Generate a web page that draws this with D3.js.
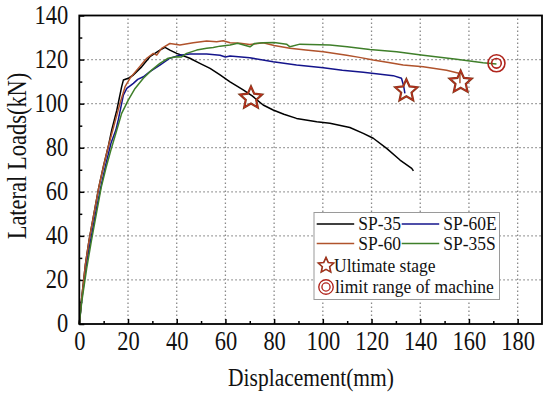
<!DOCTYPE html>
<html><head><meta charset="utf-8">
<script src="https://cdn.jsdelivr.net/npm/d3@7/dist/d3.min.js"></script>
<style>body{margin:0;background:#fff}svg{display:block}</style>
</head><body>
<svg id="chart" width="550" height="397"></svg>
<script>
// ---- data ----
const xTicks = [0,20,40,60,80,100,120,140,160,180];
const yTicks = [0,20,40,60,80,100,120,140];
const seriesNames = ["SP-35","SP-60E","SP-60","SP-35S"];
const sp35 = [[0,0],[1,12],[2.5,27],[4,38],[6,50],[8,62],[10,72],[12,81],[13.3,88],[15.4,97],[17.4,107.7],[18.1,110.7],[20.1,111.5],[22.2,113],[25.6,116.7],[29,121.3],[33.1,124.3],[35.2,125.5],[37.2,124.3],[40,122.8],[45.4,120.6],[49.5,118.3],[53.7,116],[57.8,113],[61.9,109.9],[67.3,106.2],[71,103.5],[75.5,99.4],[79.6,97.1],[84,95.2],[89.2,93.3],[97.5,91.8],[102.9,91.1],[111.1,89.2],[116.6,86.5],[120.7,84.3],[126.2,79.7],[131.7,74.4],[136.5,70.6],[137.2,69.5]];
const sp60E = [[0,0],[1,11],[3,28],[5,40],[7,52],[9,63],[11,73],[13,82],[15,88],[16,92.6],[17,98],[18.1,103.9],[19.5,106.9],[22.2,109.2],[24,111],[26.3,112.2],[29,114.5],[33.1,117.5],[37.2,120.6],[41.3,122],[45.4,122.5],[52.3,122.5],[57.8,122],[60,121.2],[61.9,121.6],[70,120.8],[79.6,119],[89.2,117.5],[100.2,116.3],[108,115.2],[116.6,114.2],[128.9,112.7],[132.3,111.5],[133.2,108],[133.7,104.7]];
const sp60 = [[0,0],[1,12],[2.5,27],[4,38],[6,50],[8,62],[10,72],[12,81],[14,89],[16.7,100.1],[18.8,107.7],[20.8,111.5],[24.2,116],[27.7,120.6],[30.4,122.8],[31.8,122],[33.8,125.1],[37.2,127.3],[41.3,126.6],[46.8,127.6],[52.3,128.4],[56.4,128.1],[59.1,128.5],[61.9,127.6],[66,127.4],[70,126.8],[75.5,127.6],[80,126.4],[86.5,125.1],[93,124.3],[100.2,123.5],[109.8,122],[115,121],[120.7,119.8],[127,118.7],[133,117.5],[141.2,116.7],[150.8,115.2],[156.3,113.7],[156.3,109.2]];
const sp35S = [[0,0],[1,10],[3,25],[5,38],[7,50],[9,62],[11,71],[13,79],[15.4,88],[17.4,95.6],[20.1,101.6],[22.9,106.9],[26.3,111.5],[29.7,115.2],[33.1,118.3],[36.5,120.6],[40,121.3],[42,121.2],[44.1,122.8],[48.2,124.3],[52.3,125.1],[55,125.5],[57.8,126.1],[61.9,126.6],[65,127.4],[70.1,125.8],[72,127.3],[75.5,127.6],[80,127.8],[85.1,127],[86.5,125.8],[90.6,127],[102.9,126.6],[110,125.8],[119.3,124.6],[130.3,123.5],[141.2,122],[154.9,120.2],[165.8,118.6],[171.3,118]];
const ultimatePts = [[70.5,102.5],[134.3,105.8],[156.6,109.7]];
const limitPts = [[171.3,118.3]];
const legendMarkerLabels = ["Ultimate stage","limit range of machine"];

// ---- layout ----
const svg = d3.select("#chart");
const L = 79.3, R = 542, T = 15.5, B = 324;
const x = d3.scaleLinear().domain([0,190]).range([L,R]);
const y = d3.scaleLinear().domain([0,140]).range([B,T]);
const font = "'Liberation Serif','Times New Roman',serif";
const colors = ["#000000","#14148c","#b0532c","#3f7f2a"];
const seriesData = [sp35, sp60E, sp60, sp35S];
const SY = 1.18; // vertical glyph stretch seen in the reference

// grid
const g = svg.append("g");
g.selectAll(".gx").data(xTicks.filter(d=>d>0)).enter().append("line")
  .attr("x1",d=>x(d)).attr("x2",d=>x(d)).attr("y1",B).attr("y2",T)
  .attr("stroke","#8a8a8a").attr("stroke-width",1.3).attr("stroke-dasharray","1.5,2.5");
g.selectAll(".gy").data(yTicks.filter(d=>d>0 && d<140)).enter().append("line")
  .attr("x1",L).attr("x2",R).attr("y1",d=>y(d)).attr("y2",d=>y(d))
  .attr("stroke","#8a8a8a").attr("stroke-width",1.3).attr("stroke-dasharray","1.5,2.5");

// axes
const xAxis = svg.append("g").attr("transform",`translate(0,${B})`)
  .call(d3.axisBottom(x).tickValues(xTicks).tickSize(-5).tickFormat(d3.format("d")));
const xMinor = svg.append("g").attr("transform",`translate(0,${B})`)
  .call(d3.axisBottom(x).tickValues(d3.range(10,190,20)).tickSize(-3).tickFormat(""));
const yAxis = svg.append("g").attr("transform",`translate(${L},0)`)
  .call(d3.axisLeft(y).tickValues(yTicks).tickSize(-5).tickPadding(11).tickFormat(d3.format("d")));
const yMinor = svg.append("g").attr("transform",`translate(${L},0)`)
  .call(d3.axisLeft(y).tickValues(d3.range(10,140,20)).tickSize(-3).tickFormat(""));
[xAxis,xMinor,yAxis,yMinor].forEach(a=>{
  a.select(".domain").remove();
  a.selectAll(".tick line").attr("stroke","#000").attr("stroke-width",1.5);
  a.selectAll("text").attr("font-family",font).attr("font-size",22.5).attr("fill","#111");
});
xAxis.selectAll("text").attr("y",0).attr("dy",null)
  .attr("transform",`translate(0,26) scale(1,${SY})`);
yAxis.selectAll("text").attr("y",0).attr("dy",null)
  .attr("transform",`translate(0,7.5) scale(1,${SY})`);

// lines
const line = d3.line().x(d=>x(d[0])).y(d=>y(d[1]));
seriesData.forEach((s,i)=>{
  svg.append("path").datum(s).attr("d",line).attr("fill","none")
    .attr("stroke",colors[i]).attr("stroke-width",1.5).attr("stroke-linejoin","round");
});

// frame
svg.append("rect").attr("x",L).attr("y",T).attr("width",R-L).attr("height",B-T)
  .attr("fill","none").attr("stroke","#000").attr("stroke-width",1.8);

// markers: fat five-pointed star (Origin style) as a custom d3 symbol type
const fatStar = {
  draw(ctx, size){
    const ro = Math.sqrt(size), ri = ro*0.47;
    for(let k=0;k<10;k++){
      const r = k%2 ? ri : ro, a = -Math.PI/2 + k*Math.PI/5;
      const px = r*Math.cos(a), py = r*Math.sin(a);
      k ? ctx.lineTo(px,py) : ctx.moveTo(px,py);
    }
    ctx.closePath();
  }
};
const star = d3.symbol().type(fatStar).size(135);
function drawStar(sel){
  sel.append("path").attr("d",star).attr("fill","none").attr("stroke","#7d3a1c").attr("stroke-width",2.2).attr("stroke-linejoin","miter");
  sel.append("path").attr("d",star).attr("fill","none").attr("stroke","#d8281e").attr("stroke-width",0.8);
}
function drawRing(sel){
  sel.append("circle").attr("r",8.5).attr("fill","none").attr("stroke","#b0241c").attr("stroke-width",1.6);
  sel.append("circle").attr("r",4.8).attr("fill","none").attr("stroke","#b0241c").attr("stroke-width",1.6);
}
svg.selectAll(".ult").data(ultimatePts).enter().append("g")
  .attr("transform",d=>`translate(${x(d[0])},${y(d[1])})`).each(function(){drawStar(d3.select(this));});
svg.selectAll(".lim").data(limitPts).enter().append("g")
  .attr("transform",d=>`translate(${x(d[0])},${y(d[1])})`).each(function(){drawRing(d3.select(this));});

// legend
const lg = svg.append("g");
lg.append("rect").attr("x",314).attr("y",212.5).attr("width",185.5).attr("height",87)
  .attr("fill","#fff").attr("stroke","#9a9a9a").attr("stroke-width",1);
const legPos = [[316.7,224,358.3],[401.7,224,443.3],[316.7,243.5,358.3],[401.7,243.5,443.3]];
function legText(tx,ty,str){
  lg.append("text").attr("transform",`translate(${tx},${ty}) scale(1,1.08)`).text(str)
    .attr("font-family",font).attr("font-size",17.5).attr("fill","#111");
}
seriesNames.forEach((n,i)=>{
  const p = legPos[i];
  lg.append("line").attr("x1",p[0]).attr("x2",p[0]+37.5).attr("y1",p[1]).attr("y2",p[1])
    .attr("stroke",colors[i]).attr("stroke-width",1.5);
  legText(p[2],p[1]+6,n);
});
const ls = lg.append("g").attr("transform","translate(326,265.5) scale(0.7)"); drawStar(ls);
const lr = lg.append("g").attr("transform","translate(326,287) scale(0.85)"); drawRing(lr);
legText(334,271.5,legendMarkerLabels[0]);
legText(335,293,legendMarkerLabels[1]);

// axis titles
svg.append("text").attr("transform",`translate(311,386) scale(1,${SY})`).attr("text-anchor","middle")
  .attr("font-family",font).attr("font-size",21.5).attr("fill","#111").text("Displacement(mm)");
svg.append("text").attr("transform",`translate(25.5,156) rotate(-90) scale(1,${SY})`).attr("text-anchor","middle")
  .attr("font-family",font).attr("font-size",22.5).attr("fill","#111").text("Lateral Loads(kN)");
</script>
</body></html>
